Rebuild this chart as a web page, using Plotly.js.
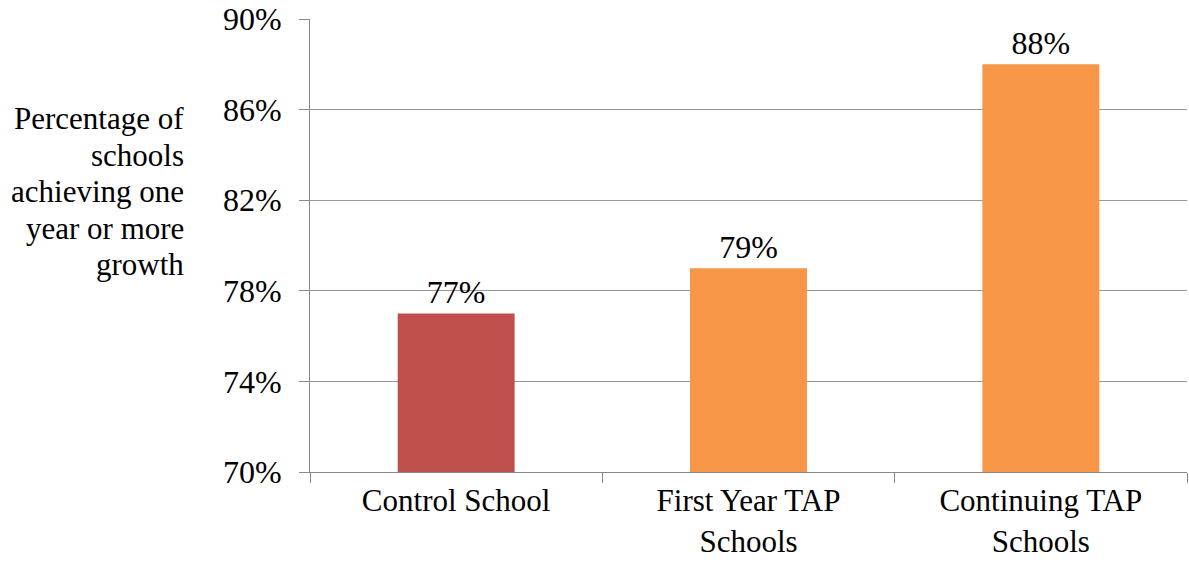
<!DOCTYPE html>
<html><head><meta charset="utf-8">
<script src="https://cdn.plot.ly/plotly-3.0.1.min.js"></script>
</head><body style="margin:0;background:#fff">
<div id="chart" style="width:1189px;height:563px"></div>
<script>
const categories = ["Control School", "First Year TAP<br>Schools", "Continuing TAP<br>Schools"];
const values = [77, 79, 88];
const labels = ["77%", "79%", "88%"];
const colors = ["#C0504D", "#F79646", "#F79646"];
const yTicks = [70, 74, 78, 82, 86, 90];
const yTitleLines = ["Percentage of", "schools", "achieving one", "year or more", "growth"];

const FF = "Liberation Serif";
// vertical pixel centres of the title lines, converted to paper fractions
const plotTop = 19, plotH = 453;
const titleCentres = [118, 155, 192, 228, 264];

Plotly.newPlot("chart", [{
  type: "bar",
  x: categories,
  y: values,
  text: labels,
  textposition: "outside",
  cliponaxis: false,
  textfont: {family: FF, size: 32, color: "#000000"},
  marker: {color: colors},
  hoverinfo: "none"
}], {
  width: 1189, height: 563,
  margin: {l: 310, r: 2, t: 19, b: 91},
  paper_bgcolor: "#ffffff", plot_bgcolor: "#ffffff",
  bargap: 0.6,
  showlegend: false,
  font: {family: FF, size: 32, color: "#000000"},
  xaxis: {
    type: "category",
    tickson: "boundaries",
    ticks: "outside", ticklen: 10, tickcolor: "#888", tickwidth: 1,
    ticklabelstandoff: 1,
    showline: true, linecolor: "#888", linewidth: 1,
    showgrid: false,
    tickfont: {family: FF, size: 31, color: "#000000"}
  },
  yaxis: {
    range: [70, 90],
    tickvals: yTicks,
    ticktext: yTicks.map(v => v + "%"),
    ticks: "outside", ticklen: 10, tickcolor: "#888", tickwidth: 1,
    ticklabelstandoff: 11,
    showline: true, linecolor: "#888", linewidth: 1,
    showgrid: true, gridcolor: "#999", gridwidth: 1,
    zeroline: false,
    tickfont: {family: FF, size: 32, color: "#000000"}
  },
  annotations: yTitleLines.map((t, i) => ({
    text: t, xref: "paper", yref: "paper",
    x: -0.1414, y: 1 - (titleCentres[i] - plotTop) / plotH,
    xanchor: "right", yanchor: "middle", align: "right",
    showarrow: false,
    font: {family: FF, size: 31, color: "#000000"}
  }))
}, {staticPlot: true});
</script>
</body></html>
